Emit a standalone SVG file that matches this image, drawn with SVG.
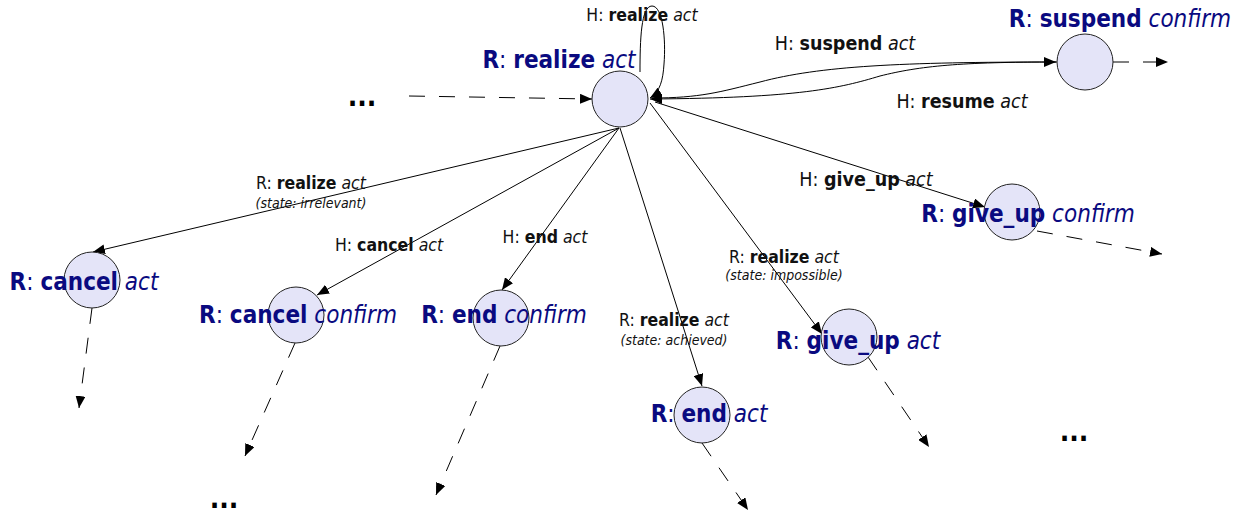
<svg xmlns="http://www.w3.org/2000/svg" width="1245" height="516" viewBox="0 0 1245 516">
<defs>
<marker id="ah" viewBox="0 0 12 10" refX="12" refY="5" markerWidth="12" markerHeight="10" orient="auto" markerUnits="userSpaceOnUse"><path d="M0,0 L12,5 L0,10 z" fill="#000"/></marker>
<style>
text{font-family:"DejaVu Sans Condensed","DejaVu Sans",sans-serif;font-stretch:condensed;text-anchor:middle}
.node circle{fill:#e4e4f8;stroke:#222;stroke-width:1}
.nl{font-size:24px;fill:#0a0a80}
.el{font-size:17.5px;fill:#111}
.el2{font-size:19.5px;fill:#111}
.st{font-size:14px;fill:#111;font-style:italic}
.b{font-weight:bold}
.i{font-style:italic}
.edge{fill:none;stroke:#000;stroke-width:1;marker-end:url(#ah)}
.dash{stroke-dasharray:16 14}
.dots{font-size:28px;font-weight:bold;fill:#000}
</style>
</defs>
<g id="connectors">
<path class="edge dash" d="M409,96 L592,99"/>
<path class="edge" d="M640,72 C640,40 641,6 652,6 C663,6 666,40 664,64 C663,80 660,92 650,98"/>
<path class="edge" d="M652,98 C700,98 720,92 760,82 C820,66 900,62 1056,62"/>
<path class="edge" d="M1057,62 C960,62 920,66 880,76 C840,88 800,98 650,99"/>
<path class="edge" d="M619,128 L93,252"/>
<path class="edge" d="M619,128 L317,295"/>
<path class="edge" d="M619,128 L502,290"/>
<path class="edge" d="M620,128 L702,386"/>
<path class="edge" d="M650,103 L822,334"/>
<path class="edge" d="M655,102 L985,207"/>
<path class="edge dash" d="M1113,62 L1168,62"/>
<path class="edge dash" d="M1037,231 L1162,254"/>
<path class="edge dash" d="M92,308 L79,408"/>
<path class="edge dash" d="M295,343 L245,456"/>
<path class="edge dash" d="M500,346 L436,495"/>
<path class="edge dash" d="M702,443 L748,510"/>
<path class="edge dash" d="M868,357 L929,447"/>
</g>
<g id="edge-labels">
<text class="el" x="642" y="21">H: <tspan class="b">realize</tspan> <tspan class="i">act</tspan></text>
<text class="el2" x="845" y="50">H: <tspan class="b">suspend</tspan> <tspan class="i">act</tspan></text>
<text class="el2" x="962" y="108">H: <tspan class="b">resume</tspan> <tspan class="i">act</tspan></text>
<text class="el" x="311" y="189">R: <tspan class="b">realize</tspan> <tspan class="i">act</tspan></text>
<text class="st" x="311" y="208">(state: irrelevant)</text>
<text class="el" x="389" y="251">H: <tspan class="b">cancel</tspan> <tspan class="i">act</tspan></text>
<text class="el" x="545" y="243">H: <tspan class="b">end</tspan> <tspan class="i">act</tspan></text>
<text class="el" x="674" y="326">R: <tspan class="b">realize</tspan> <tspan class="i">act</tspan></text>
<text class="st" x="674" y="345">(state: achieved)</text>
<text class="el" x="784" y="263">R: <tspan class="b">realize</tspan> <tspan class="i">act</tspan></text>
<text class="st" x="784" y="280">(state: impossible)</text>
<text class="el2" x="866" y="186">H: <tspan class="b">give_up</tspan> <tspan class="i">act</tspan></text>
</g>
<g id="n-realize-act" class="node"><circle cx="620" cy="99" r="28"/><text class="nl" x="559" y="68"><tspan class="b">R</tspan>: <tspan class="b">realize</tspan> <tspan class="i">act</tspan></text></g>
<g id="n-suspend-confirm" class="node"><circle cx="1085" cy="62" r="28"/><text class="nl" x="1120" y="27"><tspan class="b">R</tspan>: <tspan class="b">suspend</tspan> <tspan class="i">confirm</tspan></text></g>
<g id="n-cancel-act" class="node"><circle cx="92" cy="280" r="28"/><text class="nl" x="84" y="290"><tspan class="b">R</tspan>: <tspan class="b">cancel</tspan> <tspan class="i">act</tspan></text></g>
<g id="n-cancel-confirm" class="node"><circle cx="296" cy="315" r="28"/><text class="nl" x="298" y="323"><tspan class="b">R</tspan>: <tspan class="b">cancel</tspan> <tspan class="i">confirm</tspan></text></g>
<g id="n-end-confirm" class="node"><circle cx="501" cy="318" r="28"/><text class="nl" x="504" y="323"><tspan class="b">R</tspan>: <tspan class="b">end</tspan> <tspan class="i">confirm</tspan></text></g>
<g id="n-end-act" class="node"><circle cx="702" cy="415" r="28"/><text class="nl" x="709" y="422"><tspan class="b">R</tspan>: <tspan class="b">end</tspan> <tspan class="i">act</tspan></text></g>
<g id="n-giveup-confirm" class="node"><circle cx="1012" cy="212" r="28"/><text class="nl" x="1028" y="222"><tspan class="b">R</tspan>: <tspan class="b">give_up</tspan> <tspan class="i">confirm</tspan></text></g>
<g id="n-giveup-act" class="node"><circle cx="849" cy="337" r="28"/><text class="nl" x="858" y="349"><tspan class="b">R</tspan>: <tspan class="b">give_up</tspan> <tspan class="i">act</tspan></text></g>
<g id="ellipses">
<text class="dots" x="362" y="106">...</text>
<text class="dots" x="224" y="508">...</text>
<text class="dots" x="1074" y="441">...</text>
</g>
</svg>
